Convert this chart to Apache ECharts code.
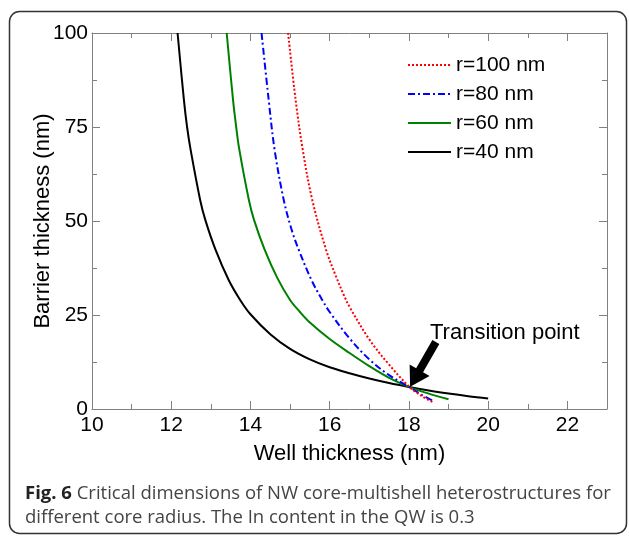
<!DOCTYPE html>
<html>
<head>
<meta charset="utf-8">
<script src="https://cdn.jsdelivr.net/npm/echarts@6/dist/echarts.min.js"></script>
<style>
html,body{margin:0;padding:0;background:#fff;}
#c{width:629px;height:536px;}
</style>
</head>
<body>
<div id="c"></div>
<script>
// ---- data ----
var seriesNames = ['r=100 nm', 'r=80 nm', 'r=60 nm', 'r=40 nm'];
var r100X = [14.95, 15.14, 15.32, 15.56, 15.91, 16.15, 16.37, 16.51, 17.0, 17.5, 18.0, 18.3, 18.64];
var r100Y = [100, 82.2, 68.9, 55.6, 42.3, 35.5, 30.0, 27.0, 18.5, 11.8, 6.0, 3.6, 1.6];
var r80X = [14.28, 14.46, 14.61, 14.84, 15.03, 15.22, 15.54, 15.8, 16.0, 16.5, 17.0, 17.5, 18.0, 18.3, 18.6];
var r80Y = [100, 82.2, 68.9, 55.6, 48.0, 42.3, 34.3, 29.2, 25.8, 18.8, 13.2, 9.0, 5.9, 3.9, 2.2];
var r60X = [13.40, 13.56, 13.64, 13.72, 13.96, 14.09, 14.36, 14.68, 15.0, 15.25, 15.5, 16.0, 16.5, 17.0, 17.5, 18.0, 18.5, 19.0];
var r60Y = [100, 82.2, 75.0, 68.9, 55.6, 50.3, 42.3, 34.8, 29.0, 25.8, 23.0, 18.6, 14.9, 11.4, 8.3, 5.9, 4.1, 2.6];
var r40X = [12.16, 12.32, 12.40, 12.49, 12.73, 12.86, 13.12, 13.45, 13.74, 14.0, 14.5, 15.0, 15.5, 16.0, 16.5, 17.0, 17.5, 18.0, 18.5, 19.0, 19.5, 20.0];
var r40Y = [100, 82.2, 75.0, 68.9, 55.6, 50.3, 42.3, 34.3, 29.0, 25.2, 19.9, 16.0, 13.2, 11.1, 9.5, 8.1, 6.9, 5.85, 4.9, 4.1, 3.4, 2.8];
var xMin = 10, xMax = 23, xMajor = 2, xMinor = 1;
var yMin = 0, yMax = 100, yMajor = 25;
var xTickLabels = [10, 12, 14, 16, 18, 20, 22];
var annotationText = 'Transition point';
var arrowTip = [18.03, 5.9];
var arrowTail = [18.68, 17.8];
var xTitle = 'Well thickness (nm)';
var yTitle = 'Barrier thickness (nm)';
var captionBold = 'Fig. 6';
var captionLine1 = ' Critical dimensions of NW core-multishell heterostructures for';
var captionLine2 = 'different core radius. The In content in the QW is 0.3';

function zip(xs, ys) { return xs.map(function (x, i) { return [x, ys[i]]; }); }

var chart = echarts.init(document.getElementById('c'), null, {renderer: 'canvas'});
var font = 'Liberation Sans, Arial, sans-serif';
var axisGray = '#808080';

function xAxisDef(pos, interval, len, showLabel, showLine) {
  return {
    type: 'value', position: pos, min: xMin, max: xMax, interval: interval,
    axisLine: {show: showLine, onZero: false, lineStyle: {color: axisGray, width: 1}},
    axisTick: {show: true, inside: true, length: len, lineStyle: {color: axisGray}},
    splitLine: {show: false},
    axisLabel: {
      show: showLabel, color: '#000', fontSize: 21, fontFamily: font, margin: 6,
      formatter: function (v) { return xTickLabels.indexOf(v) >= 0 ? String(v) : ''; }
    },
    name: showLabel ? xTitle : '', nameLocation: 'middle', nameGap: 34, nameMoveOverlap: false,
    nameTextStyle: {color: '#000', fontSize: 22, fontFamily: font}
  };
}
function yAxisDef(pos, showLabel) {
  return {
    type: 'value', position: pos, min: yMin, max: yMax, interval: yMajor,
    axisLine: {show: true, onZero: false, lineStyle: {color: axisGray, width: 1}},
    axisTick: {show: true, inside: true, length: 8, lineStyle: {color: axisGray}},
    minorTick: {show: true, splitNumber: 2, length: 5, lineStyle: {color: axisGray}},
    splitLine: {show: false},
    axisLabel: {show: showLabel, color: '#000', fontSize: 21, fontFamily: font, margin: 4},
    name: showLabel ? yTitle : '', nameLocation: 'middle', nameGap: 38, nameMoveOverlap: false,
    nameTextStyle: {color: '#000', fontSize: 22, fontFamily: font}
  };
}

var option = {
  backgroundColor: '#fff',
  animation: false,
  grid: {left: 92, right: 22, top: 33, bottom: 127, containLabel: false},
  xAxis: [
    xAxisDef('bottom', xMajor, 8, true, true),
    xAxisDef('bottom', xMinor, 5, false, false),
    xAxisDef('top', xMajor, 8, false, true),
    xAxisDef('top', xMinor, 5, false, false)
  ],
  yAxis: [yAxisDef('left', true), yAxisDef('right', false)],
  legend: {
    orient: 'vertical', left: 407, top: 54, padding: 0,
    itemWidth: 43, itemHeight: 12, itemGap: 7,
    data: seriesNames,
    itemStyle: {opacity: 0},
    textStyle: {color: '#000', fontSize: 21, fontFamily: font, lineHeight: 22, padding: [0, 0, 0, 0]}
  },
  series: [
    {name: seriesNames[3], type: 'line', data: zip(r40X, r40Y), smooth: 0.35, symbol: 'none',
     lineStyle: {color: '#000000', width: 2}, itemStyle: {color: '#000000'}},
    {name: seriesNames[2], type: 'line', data: zip(r60X, r60Y), smooth: 0.35, symbol: 'none',
     lineStyle: {color: '#008000', width: 2}, itemStyle: {color: '#008000'}},
    {name: seriesNames[1], type: 'line', data: zip(r80X, r80Y), smooth: 0.35, symbol: 'none',
     lineStyle: {color: '#0000ff', width: 2, type: [7, 3, 2, 3]}, itemStyle: {color: '#0000ff'}},
    {name: seriesNames[0], type: 'line', data: zip(r100X, r100Y), smooth: 0.35, symbol: 'none',
     lineStyle: {color: '#ff0000', width: 2, type: [2, 2]}, itemStyle: {color: '#ff0000'}}
  ]
};
chart.setOption(option);

// annotation arrow and text, frame and caption
var tip = chart.convertToPixel({xAxisIndex: 0, yAxisIndex: 0}, arrowTip);
var tail = chart.convertToPixel({xAxisIndex: 0, yAxisIndex: 0}, arrowTail);
var dx = tail[0] - tip[0], dy = tail[1] - tip[1];
var L = Math.sqrt(dx * dx + dy * dy);
var ux = dx / L, uy = dy / L;   // from tip toward tail
var px = -uy, py = ux;          // perpendicular
var headLen = 19, headHalf = 11.5, shaftHalf = 4;
function P(a, b) { return [tip[0] + ux * a + px * b, tip[1] + uy * a + py * b]; }
var arrowPts = [P(0, 0), P(headLen, headHalf), P(headLen, shaftHalf), P(L, shaftHalf),
                P(L, -shaftHalf), P(headLen, -shaftHalf), P(headLen, -headHalf)];

chart.setOption({
  graphic: [
    {type: 'rect', shape: {x: 9.5, y: 11.5, width: 617, height: 522, r: 10}, silent: true,
     style: {fill: 'none', stroke: '#333', lineWidth: 1.5}, z: 100},
    {type: 'polygon', shape: {points: arrowPts}, style: {fill: '#000'}, z: 100},
    {type: 'text', left: 430, top: 322, z: 100,
     style: {text: annotationText, fill: '#000', font: '22px ' + font}},
    {type: 'text', left: 25, top: 482, z: 100,
     style: {text: '{b|' + captionBold + '}' + captionLine1 + '\n' + captionLine2,
             fill: '#444', font: '18.5px "Open Sans"', lineHeight: 24,
             rich: {b: {fontWeight: 'bold', fontSize: 18.5, fontFamily: 'Open Sans', fill: '#222', lineHeight: 24}}}}
  ]
});
</script>
</body>
</html>
